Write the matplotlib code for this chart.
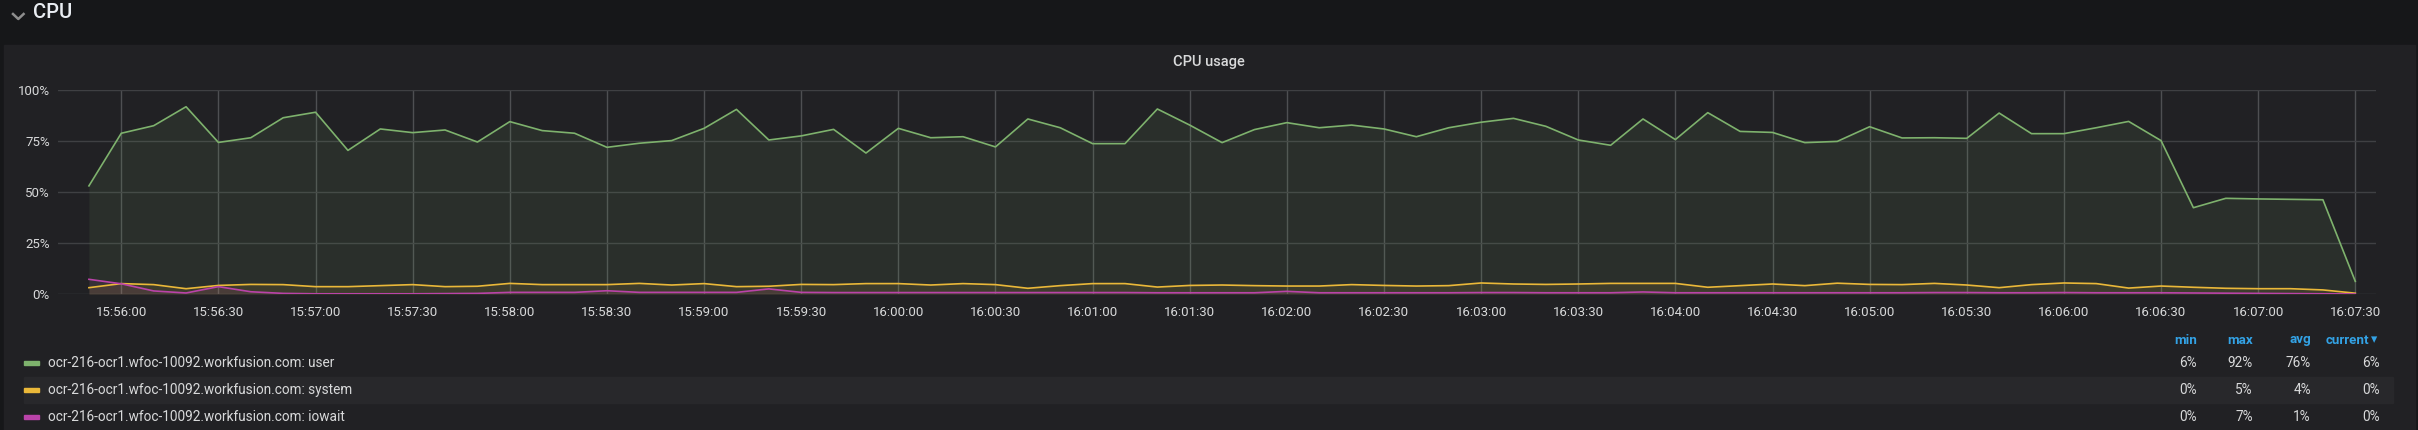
import matplotlib
matplotlib.use('Agg')
import matplotlib.pyplot as plt
import matplotlib.dates as mdates
from matplotlib.patches import Rectangle
from matplotlib.lines import Line2D
import datetime as dt

# ---------------- data ----------------
start_time = dt.datetime(2020, 1, 1, 15, 55, 50)
step_seconds = 10

user = [53, 78.8, 82.5, 91.8, 74.3, 76.6, 86.4, 89.1, 70.4, 80.9,
        79.1, 80.4, 74.5, 84.5, 80.1, 78.8, 71.9, 73.9, 75.2, 81.2,
        90.5, 75.5, 77.5, 80.7, 69.1, 81.2, 76.6, 77.1, 72.1, 85.8,
        81.5, 73.7, 73.7, 90.7, 82.8, 74.2, 80.6, 84.0, 81.5, 82.8,
        80.9, 77.1, 81.5, 84.2, 86.1, 82.2, 75.5, 72.9, 85.8, 75.7,
        88.9, 79.7, 79.2, 74.2, 74.8, 82.0, 76.5, 76.6, 76.3, 88.7,
        78.6, 78.6, 81.5, 84.6, 75.2, 42.3, 46.9, 46.6, 46.4, 46.2,
        6.2]
system = [3.1, 5.1, 4.6, 2.6, 4.2, 4.7, 4.6, 3.6, 3.6, 4.1,
          4.6, 3.6, 3.8, 5.2, 4.6, 4.6, 4.6, 5.2, 4.4, 5.1,
          3.6, 3.8, 4.7, 4.6, 5.1, 5.1, 4.4, 5.1, 4.6, 2.8,
          4.1, 5.1, 5.1, 3.4, 4.2, 4.4, 4.1, 3.9, 3.9, 4.6,
          4.2, 3.9, 4.1, 5.4, 4.9, 4.7, 4.9, 5.2, 5.2, 5.2,
          3.3, 4.1, 4.9, 4.1, 5.3, 4.7, 4.6, 5.2, 4.4, 3.1,
          4.6, 5.4, 5.1, 2.9, 3.9, 3.3, 2.8, 2.6, 2.6, 2.0,
          0.4]
iowait = [7.2, 5.0, 1.5, 0.5, 3.6, 1.1, 0.3, 0.1, 0.1, 0.1,
          0.1, 0.2, 0.3, 0.8, 0.8, 0.8, 1.6, 0.8, 0.8, 0.8,
          0.8, 2.5, 0.8, 0.7, 0.7, 0.7, 0.7, 0.7, 0.7, 0.7,
          0.7, 0.7, 0.7, 0.6, 0.6, 0.6, 0.6, 1.3, 0.6, 0.6,
          0.6, 0.6, 0.6, 0.7, 0.7, 0.6, 0.6, 0.6, 1.0, 0.6,
          0.6, 0.6, 0.6, 0.6, 0.6, 0.6, 0.6, 0.7, 0.7, 0.6,
          0.6, 0.7, 0.6, 0.6, 0.6, 0.5, 0.4, 0.3, 0.2, 0.1,
          0.0]
times = [start_time + dt.timedelta(seconds=step_seconds * i) for i in range(len(user))]

series_names = ["ocr-216-ocr1.wfoc-10092.workfusion.com: user",
                "ocr-216-ocr1.wfoc-10092.workfusion.com: system",
                "ocr-216-ocr1.wfoc-10092.workfusion.com: iowait"]
series_values = [user, system, iowait]
series_colors = ["#7EB26D", "#EAB839", "#BA43A9"]
y_ticks = [0, 25, 50, 75, 100]
stat_headers = ["min", "max", "avg", "current"]

# ---------------- figure ----------------
W, H = 2418, 430
DPI = 100
fig = plt.figure(figsize=(W / DPI, H / DPI), dpi=DPI, facecolor="#161719")

def fx(x):
    return x / W

def fy(y):
    return 1 - y / H

FONT = ["Roboto", "DejaVu Sans"]
TXT = "#d8d9da"

# panel background
fig.patches.append(Rectangle((fx(4), fy(430)), fx(2415) - fx(4), fy(45) - fy(430),
                             transform=fig.transFigure, color="#212124", zorder=-5))

# row header "CPU"
fig.lines.append(Line2D([fx(13), fx(18.3), fx(23.6)], [fy(14), fy(19), fy(14)],
                        transform=fig.transFigure, color="#8e8e8e", lw=1.8))
fig.text(fx(33), fy(13), "CPU", fontsize=14.5, color="#e9edf2", family=FONT,
         ha="left", va="center", fontweight="medium")

# panel title
fig.text(fx(1209), fy(62), "CPU usage", fontsize=10.5, color=TXT, family=FONT,
         ha="center", va="center", fontweight="medium")

# ---------------- axes ----------------
ax_left, ax_right, ax_top, ax_bottom = 58.3, 2376, 90, 294
ax = fig.add_axes([fx(ax_left), fy(ax_bottom), fx(ax_right - ax_left), (ax_bottom - ax_top) / H])
ax.set_zorder(2)
ax.set_facecolor("none")
for s in ax.spines.values():
    s.set_visible(False)

for vals, col in zip(series_values, series_colors):
    ax.fill_between(times, 0, vals, color=col, alpha=0.10, lw=0, zorder=2)
for vals, col in zip(series_values, series_colors):
    ax.plot(times, vals, color=col, lw=1.2, zorder=3)

ax.set_ylim(0, 100)
ax.set_yticks(y_ticks)
ax.set_yticklabels([f"{v}%" for v in y_ticks])
x0 = dt.datetime(2020, 1, 1, 15, 55, 40, 540000)
x1 = dt.datetime(2020, 1, 1, 16, 7, 36, 400000)
ax.set_xlim(x0, x1)
ax.xaxis.set_major_locator(mdates.SecondLocator(bysecond=[0, 30]))
ax.xaxis.set_major_formatter(mdates.DateFormatter("%H:%M:%S"))

ax.set_axisbelow(True)
ax.grid(axis="y", color="#3f4043", lw=1.0)
ax.grid(axis="x", color="#4e4f52", lw=1.0)
ax.tick_params(axis="both", length=0, colors=TXT, labelsize=9.5)
ax.tick_params(axis="x", pad=9)
ax.tick_params(axis="y", pad=6)
for lab in ax.get_xticklabels() + ax.get_yticklabels():
    lab.set_family(FONT)

# ---------------- legend table ----------------
row_y = [363, 390, 417]
fig.patches.append(Rectangle((fx(24), fy(403)), fx(2393) - fx(24), fy(377) - fy(403),
                             transform=fig.transFigure, color="#28282b", zorder=-4))
col_right = [2197, 2253, 2311, 2369]
for hdr, xr in zip(stat_headers, col_right):
    fig.text(fx(xr), fy(340), hdr, fontsize=9.6, color="#33a2e5", family=FONT,
             ha="right", va="center", fontweight="bold")
fig.text(fx(2371), fy(340), "\u25BE", fontsize=9, color="#33a2e5", family=FONT,
         ha="left", va="center")

for name, vals, col, y in zip(series_names, series_values, series_colors, row_y):
    fig.patches.append(Rectangle((fx(24), fy(y + 2.3)), fx(39) - fx(24), fy(y - 2.3) - fy(y + 2.3),
                                 transform=fig.transFigure, color=col, zorder=1))
    fig.text(fx(48), fy(y), name, fontsize=9.8, color=TXT, family=FONT,
             ha="left", va="center")
    stats = [min(vals), max(vals), sum(vals) / len(vals), vals[-1]]
    for v, xr in zip(stats, col_right[:3] + [2380]):
        fig.text(fx(xr), fy(y), f"{round(v)}%", fontsize=9.8, color=TXT, family=FONT,
                 ha="right", va="center")

fig.savefig("out.png", dpi=DPI, facecolor=fig.get_facecolor())
